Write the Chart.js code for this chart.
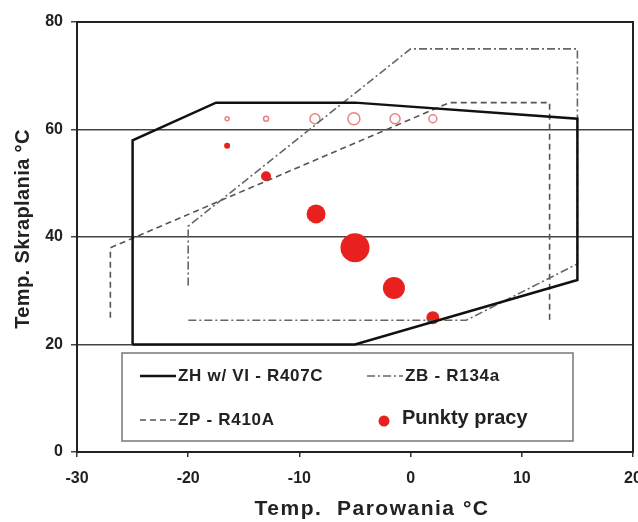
<!DOCTYPE html>
<html>
<head>
<meta charset="utf-8">
<script src="https://cdn.jsdelivr.net/npm/chart.js@4/dist/chart.umd.min.js"></script>
<style>
  html, body { margin: 0; padding: 0; background: #fff; }
  #wrap { width: 638px; height: 522px; position: relative; }
</style>
</head>
<body>
<div id="wrap"><canvas id="chart" width="638" height="522"></canvas></div>
<script>
// axis ticks and titles
const xTicks = [-30, -20, -10, 0, 10, 20];
const yTicks = [0, 20, 40, 60, 80];
const xTitle = 'Temp.  Parowania °C';
const yTitle = 'Temp. Skraplania °C';

// envelope ZH w/ VI - R407C
const zhX = [-25, -25, -17.5, -5, 15, 15, -5, -25];
const zhY = [20, 58, 65, 65, 62, 32, 20, 20];

// envelope ZB - R134a
const zbX = [-20, -20, 0, 15, 15, 5, -20];
const zbY = [31, 42, 75, 75, 35, 24.5, 24.5];

// envelope ZP - R410A
const zpX = [-27, -27, 3.5, 12.5, 12.5];
const zpY = [25, 38, 65, 65, 24.5];

// punkty pracy (filled) and their bubble size
const workX = [-16.5, -13, -8.5, -5, -1.5, 2];
const workY = [57, 51.3, 44.3, 38, 30.5, 25];
const workR = [3, 5, 9.5, 14.5, 11, 6.5];

// open circles at the top row
const ringX = [-16.5, -13, -8.6, -5.1, -1.4, 2];
const ringY = [62, 62, 62, 62, 62, 62];
const ringR = [2, 2.5, 5, 6, 5, 4];

const pts = (xs, ys) => xs.map((x, i) => ({ x, y: ys[i] }));
const bub = (xs, ys, rs) => xs.map((x, i) => ({ x, y: ys[i], r: rs[i] }));

const FONT = '"Liberation Sans", Arial, sans-serif';

// bubbles may sit on the frame, don't let them shrink the plot area
Chart.registry.getController('bubble').prototype.getMaxOverflow = function () { return 0; };

const frame = {
  id: 'frame',
  afterDraw(chart) {
    const { ctx, chartArea: a } = chart;
    ctx.save();
    ctx.strokeStyle = '#222';
    ctx.lineWidth = 2;
    ctx.strokeRect(a.left, a.top, a.right - a.left, a.bottom - a.top);

    // axis titles
    ctx.fillStyle = '#222';
    ctx.textAlign = 'center';
    ctx.textBaseline = 'middle';
    ctx.font = 'bold 21px ' + FONT;
    ctx.letterSpacing = '1.5px';
    ctx.fillText(xTitle, 372, 509);
    ctx.save();
    ctx.translate(23, 229);
    ctx.rotate(-Math.PI / 2);
    ctx.font = 'bold 20px ' + FONT;
    ctx.letterSpacing = '0.4px';
    ctx.fillText(yTitle, 0, 0);
    ctx.restore();

    // legend box
    const bx = 122, by = 353, bw = 451, bh = 88;
    ctx.fillStyle = '#fff';
    ctx.fillRect(bx, by, bw, bh);
    ctx.strokeStyle = '#777';
    ctx.lineWidth = 1.5;
    ctx.strokeRect(bx, by, bw, bh);

    const ds = chart.data.datasets;
    const items = [
      { d: ds[0], x: 140, y: 376 },
      { d: ds[1], x: 367, y: 376 },
      { d: ds[2], x: 140, y: 420 }
    ];
    ctx.textAlign = 'left';
    items.forEach(it => {
      ctx.beginPath();
      ctx.strokeStyle = it.d.borderColor;
      ctx.lineWidth = it.d.borderWidth;
      ctx.setLineDash(it.d.borderDash || []);
      ctx.moveTo(it.x, it.y);
      ctx.lineTo(it.x + 36, it.y);
      ctx.stroke();
      ctx.setLineDash([]);
      ctx.fillStyle = '#222';
      ctx.font = 'bold 17px ' + FONT;
      ctx.letterSpacing = '0.7px';
      ctx.fillText(it.d.label, it.x + 38, it.y);
    });
    ctx.letterSpacing = '0px';
    ctx.beginPath();
    ctx.fillStyle = '#e8201e';
    ctx.arc(384, 421, 5.5, 0, Math.PI * 2);
    ctx.fill();
    ctx.fillStyle = '#222';
    ctx.font = 'bold 20px ' + FONT;
    ctx.fillText(ds[3].label, 402, 418);
    ctx.restore();
  }
};

new Chart(document.getElementById('chart'), {
  type: 'scatter',
  data: {
    datasets: [
      {
        label: 'ZH w/ VI - R407C',
        data: pts(zhX, zhY),
        showLine: true,
        borderColor: '#111',
        borderWidth: 2.5,
        pointRadius: 0,
        tension: 0
      },
      {
        label: 'ZB - R134a',
        data: pts(zbX, zbY),
        showLine: true,
        borderColor: '#666',
        borderWidth: 1.6,
        borderDash: [8, 3, 2, 3],
        pointRadius: 0,
        tension: 0
      },
      {
        label: 'ZP - R410A',
        data: pts(zpX, zpY),
        showLine: true,
        borderColor: '#555',
        borderWidth: 1.6,
        borderDash: [6, 4],
        pointRadius: 0,
        tension: 0
      },
      {
        type: 'bubble',
        label: 'Punkty pracy',
        data: bub(workX, workY, workR),
        backgroundColor: '#e8201e',
        borderColor: '#e8201e',
        borderWidth: 0,
        clip: false
      },
      {
        type: 'bubble',
        label: 'Punkty pracy (otwarte)',
        data: bub(ringX, ringY, ringR),
        backgroundColor: 'rgba(255,255,255,0)',
        borderColor: 'rgba(225,90,90,0.75)',
        borderWidth: 1.5,
        clip: false
      }
    ]
  },
  options: {
    responsive: false,
    animation: false,
    layout: { padding: { top: 22, right: 5, left: 0, bottom: 0 } },
    plugins: { legend: { display: false }, tooltip: { enabled: false } },
    scales: {
      x: {
        type: 'linear',
        min: -30,
        max: 20,
        afterBuildTicks: s => { s.ticks = xTicks.map(v => ({ value: v })); },
        afterFit: s => { s.height = 70; s.paddingLeft = 0; s.paddingRight = 0; },
        grid: { drawOnChartArea: false, tickLength: 5, color: '#333', lineWidth: 1.5 },
        border: { color: '#222', width: 2 },
        ticks: { color: '#222', padding: 12, maxRotation: 0, font: { family: FONT, size: 16, weight: 'bold' } }
      },
      y: {
        type: 'linear',
        min: 0,
        max: 80,
        afterBuildTicks: s => { s.ticks = yTicks.map(v => ({ value: v })); },
        afterFit: s => { s.width = 77; s.paddingTop = 0; s.paddingBottom = 0; },
        grid: { tickLength: 6, color: '#444', lineWidth: 1.5 },
        border: { color: '#222', width: 2 },
        ticks: { color: '#222', padding: 8, font: { family: FONT, size: 16, weight: 'bold' } }
      }
    }
  },
  plugins: [frame]
});
</script>
</body>
</html>
